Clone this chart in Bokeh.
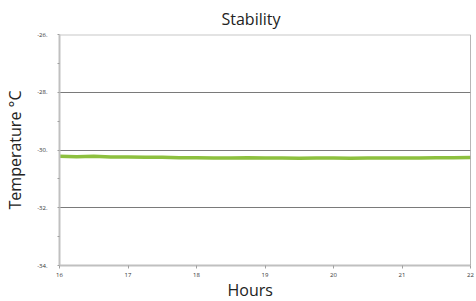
from bokeh.plotting import figure
from bokeh.models import Range1d, FixedTicker, Span, Title
from bokeh.embed import file_html
from bokeh.resources import INLINE

hours = [16.0, 16.25, 16.5, 16.75, 17.0, 17.25, 17.5, 17.75, 18.0, 18.25, 18.5, 18.75,
         19.0, 19.25, 19.5, 19.75, 20.0, 20.25, 20.5, 20.75, 21.0, 21.25, 21.5, 21.75, 22.0]
temps = [-30.22, -30.23, -30.22, -30.24, -30.24, -30.25, -30.25, -30.27, -30.27, -30.28,
         -30.28, -30.27, -30.28, -30.28, -30.29, -30.28, -30.28, -30.29, -30.28, -30.28,
         -30.28, -30.28, -30.27, -30.27, -30.26]

y_ticks = [-34, -32, -30, -28, -26]
y_tick_labels = ["-34.", "-32.", "-30.", "-28.", "-26."]
x_ticks = [16, 17, 18, 19, 20, 21, 22]
x_tick_labels = ["16", "17", "18", "19", "20", "21", "22"]

FONT = "Open Sans"

p = figure(width=476, height=301, output_backend="svg", toolbar_location=None,
           x_range=Range1d(16, 22), y_range=Range1d(-34, -26),
           min_border_left=59, min_border_right=6, min_border_top=24, min_border_bottom=36)

p.title.text = "Stability"
p.title.align = "left"
p.title.offset = 162
p.title.standoff = 10
p.title.text_font = FONT
p.title.text_font_size = "16px"
p.title.text_font_style = "normal"
p.title.text_color = "#222222"
p.title.text_line_height = 1.0

p.outline_line_color = None
p.background_fill_color = "white"
p.border_fill_color = "white"

# grid
p.xgrid.visible = False
p.ygrid.ticker = FixedTicker(ticks=[-32, -30, -28])
p.ygrid.grid_line_color = "#7a7a7a"
p.ygrid.grid_line_width = 1

top = Span(location=-26, dimension="width", line_color="#c8c8c8", line_width=2)
right = Span(location=22, dimension="height", line_color="#707070", line_width=1)
p.add_layout(top)
p.add_layout(right)

# y axis
p.yaxis.ticker = FixedTicker(ticks=y_ticks, minor_ticks=[-33, -31, -29, -27])
p.yaxis.major_label_overrides = dict(zip(y_ticks, y_tick_labels))
p.yaxis.axis_line_color = "#c0c0c0"
p.yaxis.axis_line_width = 2
p.yaxis.major_tick_line_color = "#a0a0a0"
p.yaxis.minor_tick_line_color = "#a0a0a0"
p.yaxis.major_tick_out = 2
p.yaxis.major_tick_in = 0
p.yaxis.minor_tick_out = 2
p.yaxis.minor_tick_in = 0
p.yaxis.major_label_text_font = FONT
p.yaxis.major_label_text_font_size = "6px"
p.yaxis.major_label_text_color = "#333333"
p.yaxis.major_label_standoff = 10
p.yaxis.axis_label = "Temperature °C"
p.yaxis.axis_label_text_font = FONT
p.yaxis.axis_label_text_font_size = "16px"
p.yaxis.axis_label_text_font_style = "normal"
p.yaxis.axis_label_text_color = "#222222"
p.yaxis.axis_label_standoff = 8

# x axis
p.xaxis.ticker = FixedTicker(ticks=x_ticks, minor_ticks=[])
p.xaxis.major_label_overrides = dict(zip(x_ticks, x_tick_labels))
p.xaxis.axis_line_color = "#c0c0c0"
p.xaxis.axis_line_width = 2
p.xaxis.major_tick_line_color = "#a0a0a0"
p.xaxis.major_tick_out = 3
p.xaxis.major_tick_in = 0
p.xaxis.major_label_text_font = FONT
p.xaxis.major_label_text_font_size = "6px"
p.xaxis.major_label_text_color = "#333333"
p.xaxis.major_label_text_line_height = 1.0
p.xaxis.major_label_standoff = 4

x_title = Title(text="Hours", align="left", offset=168, text_font=FONT,
                text_font_size="16px", text_font_style="normal", text_color="#222222",
                text_line_height=1.0, standoff=-5)
p.add_layout(x_title, "below")

p.line(hours, temps, line_color="#8dc03f", line_width=3.5)

open("out.html", "w").write(file_html(p, INLINE))
